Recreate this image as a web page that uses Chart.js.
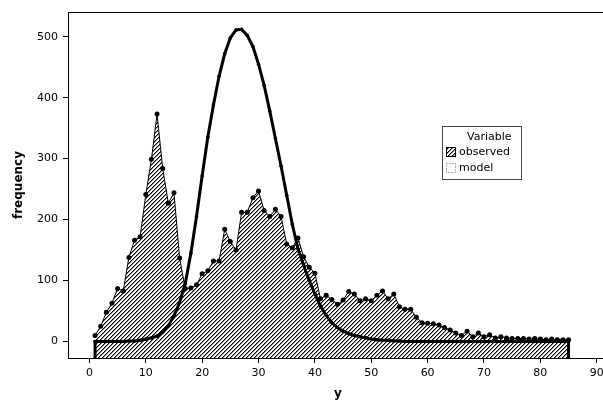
<!DOCTYPE html>
<html>
<head>
<meta charset="utf-8">
<script src="https://cdn.jsdelivr.net/npm/chart.js@4.4.1/dist/chart.umd.min.js"></script>
<style>
  html, body { margin: 0; padding: 0; background: #fff; overflow: hidden; }
  #wrap { position: relative; width: 612px; height: 403px; }
</style>
</head>
<body>
<div id="wrap"><canvas id="chart"></canvas></div>
<script>
// y value (bin) for every point
const bins = [
   1,  2,  3,  4,  5,  6,  7,  8,  9, 10,
  11, 12, 13, 14, 15, 16, 17, 18, 19, 20,
  21, 22, 23, 24, 25, 26, 27, 28, 29, 30,
  31, 32, 33, 34, 35, 36, 37, 38, 39, 40,
  41, 42, 43, 44, 45, 46, 47, 48, 49, 50,
  51, 52, 53, 54, 55, 56, 57, 58, 59, 60,
  61, 62, 63, 64, 65, 66, 67, 68, 69, 70,
  71, 72, 73, 74, 75, 76, 77, 78, 79, 80,
  81, 82, 83, 84, 85
];

const observed = [
   10,  25,  48,  63,  87,  83, 138, 166, 172, 241,
  299, 373, 284, 227, 244, 137,  87,  88,  93, 111,
  116, 132, 132, 184, 164, 150, 212, 212, 236, 247,
  215, 205, 217, 205, 160, 154, 170, 139, 122, 112,
   70,  76,  69,  61,  68,  82,  78,  67,  70,  67,
   76,  83,  70,  78,  57,  53,  53,  40,  31,  30,
   29,  27,  23,  19,  14,  10,  17,   8,  14,   8,
   11,   6,   8,   6,   5,   5,   5,   4,   5,   4,
    3,   4,   3,   3,   3
];

const model = [
    0,   0,   0,   0,   0,   0,   1,   1,   2,   4,
    6,   9,  15,  26,  42,  64,  95, 145, 205, 272,
  335, 388, 435, 472, 498, 511, 512, 502, 484, 455,
  420, 378, 333, 288, 240, 192, 152, 125, 100,  78,
   58,  43,  31,  23,  17,  13,  10,   8,   6,   4,
    3,   2,   2,   1,   1,   0,   0,   0,   0,   0,
    0,   0,   0,   0,   0,   0,   0,   0,   0,   0,
    0,   0,   0,   0,   0,   0,   0,   0,   0,   0,
    0,   0,   0,   0,   0
];

const xTicks = [0, 10, 20, 30, 40, 50, 60, 70, 80, 90];
const yTicks = [0, 100, 200, 300, 400, 500];
const seriesNames = ['observed', 'model'];
const legendTitle = 'Variable';

const X_MIN = -3.8, X_MAX = 92;
const Y_MIN = -27, Y_MAX = 540.5;

const canvas = document.getElementById('chart');
const mainCtx = canvas.getContext('2d');

// diagonal "/" hatching, a bit heavier than a single pixel line
function makeHatch() {
  const p = document.createElement('canvas');
  p.width = 4; p.height = 4;
  const g = p.getContext('2d');
  g.fillStyle = '#fff';
  g.fillRect(0, 0, 4, 4);
  for (let i = 0; i < 4; i++) {
    g.fillStyle = '#000';
    g.fillRect(i, 3 - i, 1, 1);
    g.fillStyle = '#8a8a8a';
    g.fillRect((i + 1) % 4, 3 - i, 1, 1);
  }
  return mainCtx.createPattern(p, 'repeat');
}
const hatch = makeHatch();

const observedPoints = bins.map((x, i) => ({ x: x, y: observed[i] }));
// model area is closed down to the axis at both ends
const modelPoints = [{ x: bins[0], y: Y_MIN }]
  .concat(bins.map((x, i) => ({ x: x, y: model[i] })))
  .concat([{ x: bins[bins.length - 1], y: Y_MIN }]);

const framePlugin = {
  id: 'topFrame',
  afterDatasetsDraw(chart) {
    const a = chart.chartArea;
    const c = chart.ctx;
    c.save();
    c.strokeStyle = '#000';
    c.lineWidth = 1;
    c.beginPath();
    c.moveTo(a.left, a.top + 0.5);
    c.lineTo(a.right, a.top + 0.5);
    c.stroke();
    c.restore();
  }
};

const legendPlugin = {
  id: 'boxLegend',
  afterDraw(chart) {
    const c = chart.ctx;
    c.save();
    c.fillStyle = '#fff';
    c.fillRect(442.5, 126.5, 79, 53);
    c.strokeStyle = '#444';
    c.lineWidth = 1;
    c.strokeRect(442.5, 126.5, 79, 53);

    c.font = '11px "DejaVu Sans"';
    c.fillStyle = '#000';
    c.textBaseline = 'middle';
    c.textAlign = 'left';
    c.fillText(legendTitle, 467, 137);

    c.fillStyle = hatch;
    c.fillRect(446, 147, 10, 10);
    c.strokeStyle = '#000';
    c.strokeRect(446.5, 147.5, 9, 9);
    c.fillStyle = '#000';
    c.fillText(seriesNames[0], 459, 152.5);

    c.setLineDash([1, 2]);
    c.strokeStyle = '#555';
    c.strokeRect(446.5, 163.5, 9, 9);
    c.setLineDash([]);
    c.fillText(seriesNames[1], 459, 168.5);
    c.restore();
  }
};

const tickFont = { family: 'DejaVu Sans', size: 11 };
const titleFont = { family: 'DejaVu Sans', size: 12, weight: 'bold' };
const lastModel = modelPoints.length - 1;

new Chart(mainCtx, {
  type: 'line',
  data: {
    datasets: [{
      label: seriesNames[1],
      data: modelPoints,
      borderColor: '#000',
      borderWidth: 3,
      borderJoinStyle: 'miter',
      pointRadius: ctx => (ctx.dataIndex === 0 || ctx.dataIndex === lastModel) ? 0 : 1.8,
      pointBackgroundColor: '#000',
      pointBorderWidth: 0,
      fill: false,
      tension: 0
    }, {
      label: seriesNames[0],
      data: observedPoints,
      borderColor: '#000',
      borderWidth: 1,
      pointRadius: 2.5,
      pointBackgroundColor: '#000',
      pointBorderWidth: 0,
      backgroundColor: hatch,
      fill: 'start',
      tension: 0
    }]
  },
  options: {
    responsive: true,
    maintainAspectRatio: false,
    animation: false,
    devicePixelRatio: 1,
    layout: { padding: { top: 12, right: 4, left: 0, bottom: 0 } },
    plugins: {
      legend: { display: false },
      tooltip: { enabled: false }
    },
    scales: {
      x: {
        type: 'linear',
        min: X_MIN,
        max: X_MAX,
        afterBuildTicks: s => { s.ticks = xTicks.map(v => ({ value: v })); },
        afterFit: s => { s.height = 45; },
        grid: { display: true, drawOnChartArea: false, drawTicks: true, tickLength: 5, color: '#000' },
        border: { display: true, color: '#000', width: 1 },
        ticks: { color: '#000', font: tickFont, padding: 4, maxRotation: 0, autoSkip: false },
        title: { display: true, text: 'y', color: '#000', font: titleFont, padding: { top: 0, bottom: 2 } }
      },
      y: {
        type: 'linear',
        min: Y_MIN,
        max: Y_MAX,
        afterBuildTicks: s => { s.ticks = yTicks.map(v => ({ value: v })); },
        afterFit: s => { s.width = 68; },
        grid: { display: true, drawOnChartArea: false, drawTicks: true, tickLength: 5, color: '#000' },
        border: { display: true, color: '#000', width: 1 },
        ticks: { color: '#000', font: tickFont, padding: 5 },
        title: { display: true, text: 'frequency', color: '#000', font: titleFont, padding: { top: 12, bottom: 0 } }
      }
    }
  },
  plugins: [framePlugin, legendPlugin]
});
</script>
</body>
</html>
